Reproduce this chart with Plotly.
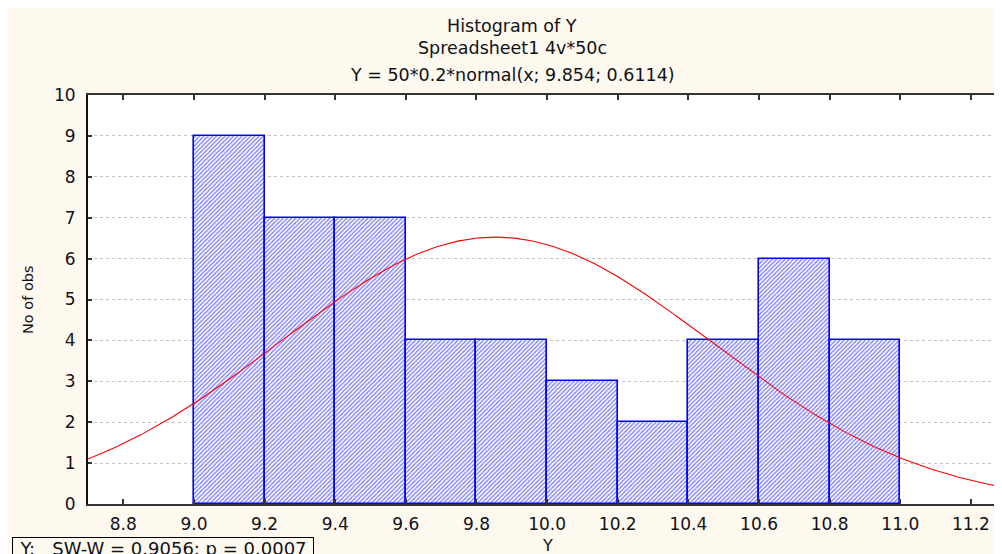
import numpy as np
import plotly.graph_objects as go

# Histogramm: linke Klassengrenzen und Häufigkeiten (No of obs)
bin_left = [9.0, 9.2, 9.4, 9.6, 9.8, 10.0, 10.2, 10.4, 10.6, 10.8]
counts = [9, 7, 7, 4, 4, 3, 2, 4, 6, 4]
bin_width = 0.2

# angepasste Normalverteilung, Werte aus dem Titel: 50*0.2*normal(x; 9.854; 0.6114)
n_obs = 50
fit_mean = 9.854
fit_sd = 0.6114

x_ticks = [8.8, 9.0, 9.2, 9.4, 9.6, 9.8, 10.0, 10.2, 10.4, 10.6, 10.8, 11.0, 11.2]
x_tick_labels = ["8.8", "9.0", "9.2", "9.4", "9.6", "9.8", "10.0", "10.2",
                 "10.4", "10.6", "10.8", "11.0", "11.2"]
y_ticks = [0, 1, 2, 3, 4, 5, 6, 7, 8, 9, 10]

title_lines = ["Histogram of Y", "Spreadsheet1 4v*50c",
               "Y = 50*0.2*normal(x; 9.854; 0.6114)"]
test_text = "Y:   SW-W = 0.9056; p = 0.0007"

X_RANGE = [8.7, 11.288]
# Seite hat 8px body-margin -> Figur sitzt bei (8, 8) im Fenster
OFF = 8
W, H = 1002 - OFF, 554 - OFF
M_L, M_R, M_T, M_B = 88 - OFF, 0, 95 - OFF, 50
FONT = "DejaVu Sans"
CREAM = "#fef9ef"
TEXT = "#111118"


def px_x(px):
    # Fensterpixel -> paper-Koordinate
    return (px - OFF - M_L) / (W - M_L - M_R)


def px_y(py):
    return (H - M_B - (py - OFF)) / (H - M_T - M_B)


# Kurve der Normalverteilung über den ganzen sichtbaren Bereich
curve_x = np.linspace(X_RANGE[0], X_RANGE[1], 400)
curve_y = n_obs * bin_width * np.exp(-0.5 * ((curve_x - fit_mean) / fit_sd) ** 2) / (fit_sd * np.sqrt(2 * np.pi))

fig = go.Figure()
fig.add_trace(go.Bar(
    x=bin_left, y=counts, width=bin_width, offset=0,
    marker=dict(
        color="white",
        line=dict(color="#0000ff", width=1.6),
        pattern=dict(shape="/", fgcolor="#0000ff", bgcolor="white", size=3, solidity=0.45),
    ),
    showlegend=False,
))
fig.add_trace(go.Scatter(
    x=curve_x, y=curve_y, mode="lines",
    line=dict(color="#ff0000", width=1.1),
    showlegend=False,
))

annotations = []
# Titelzeilen
for text, ypx in zip(title_lines, [26, 48, 75]):
    annotations.append(dict(text=text, x=px_x(512), y=px_y(ypx), xref="paper", yref="paper",
                            xanchor="center", yanchor="middle", showarrow=False,
                            font=dict(family=FONT, size=17.5, color=TEXT)))
# Achsentitel
annotations.append(dict(text="No of obs", x=px_x(28), y=px_y(300), xref="paper", yref="paper",
                        textangle=-90, xanchor="center", yanchor="middle", showarrow=False,
                        font=dict(family=FONT, size=14.5, color=TEXT)))
annotations.append(dict(text="Y", x=px_x(547), y=px_y(545), xref="paper", yref="paper",
                        xanchor="center", yanchor="middle", showarrow=False,
                        font=dict(family=FONT, size=16, color=TEXT)))
# Shapiro-Wilk Box unten links (unten vom Bildrand abgeschnitten wie im Original)
annotations.append(dict(text=test_text, x=px_x(12), y=px_y(537), xref="paper", yref="paper",
                        xanchor="left", yanchor="top", showarrow=False, width=300, align="center",
                        bordercolor="#000000", borderwidth=1, borderpad=0, bgcolor=CREAM,
                        font=dict(family=FONT, size=18, color=TEXT)))

fig.update_layout(
    width=W, height=H, autosize=False,
    margin=dict(l=M_L, r=M_R, t=M_T, b=M_B),
    paper_bgcolor=CREAM, plot_bgcolor="white",
    bargap=0, annotations=annotations,
    font=dict(family=FONT, size=17, color=TEXT),
)
fig.update_xaxes(
    range=X_RANGE, tickvals=x_ticks, ticktext=x_tick_labels,
    showgrid=False, zeroline=False,
    showline=True, linecolor="#333333", linewidth=2, mirror="ticks",
    ticks="inside", ticklen=5, tickwidth=1.5, tickcolor="#333333",
    ticklabelstandoff=4,
    tickfont=dict(family=FONT, size=17, color=TEXT),
)
fig.update_yaxes(
    range=[0, 10], tickvals=y_ticks,
    showgrid=True, gridcolor="#c4c4c4", gridwidth=1, griddash="dot", zeroline=False,
    showline=True, linecolor="#111111", linewidth=2,
    ticks="inside", ticklen=4, tickwidth=1.5, tickcolor="#333333",
    ticklabelstandoff=7,
    tickfont=dict(family=FONT, size=17, color=TEXT),
)

fig.write_html("out.html")
